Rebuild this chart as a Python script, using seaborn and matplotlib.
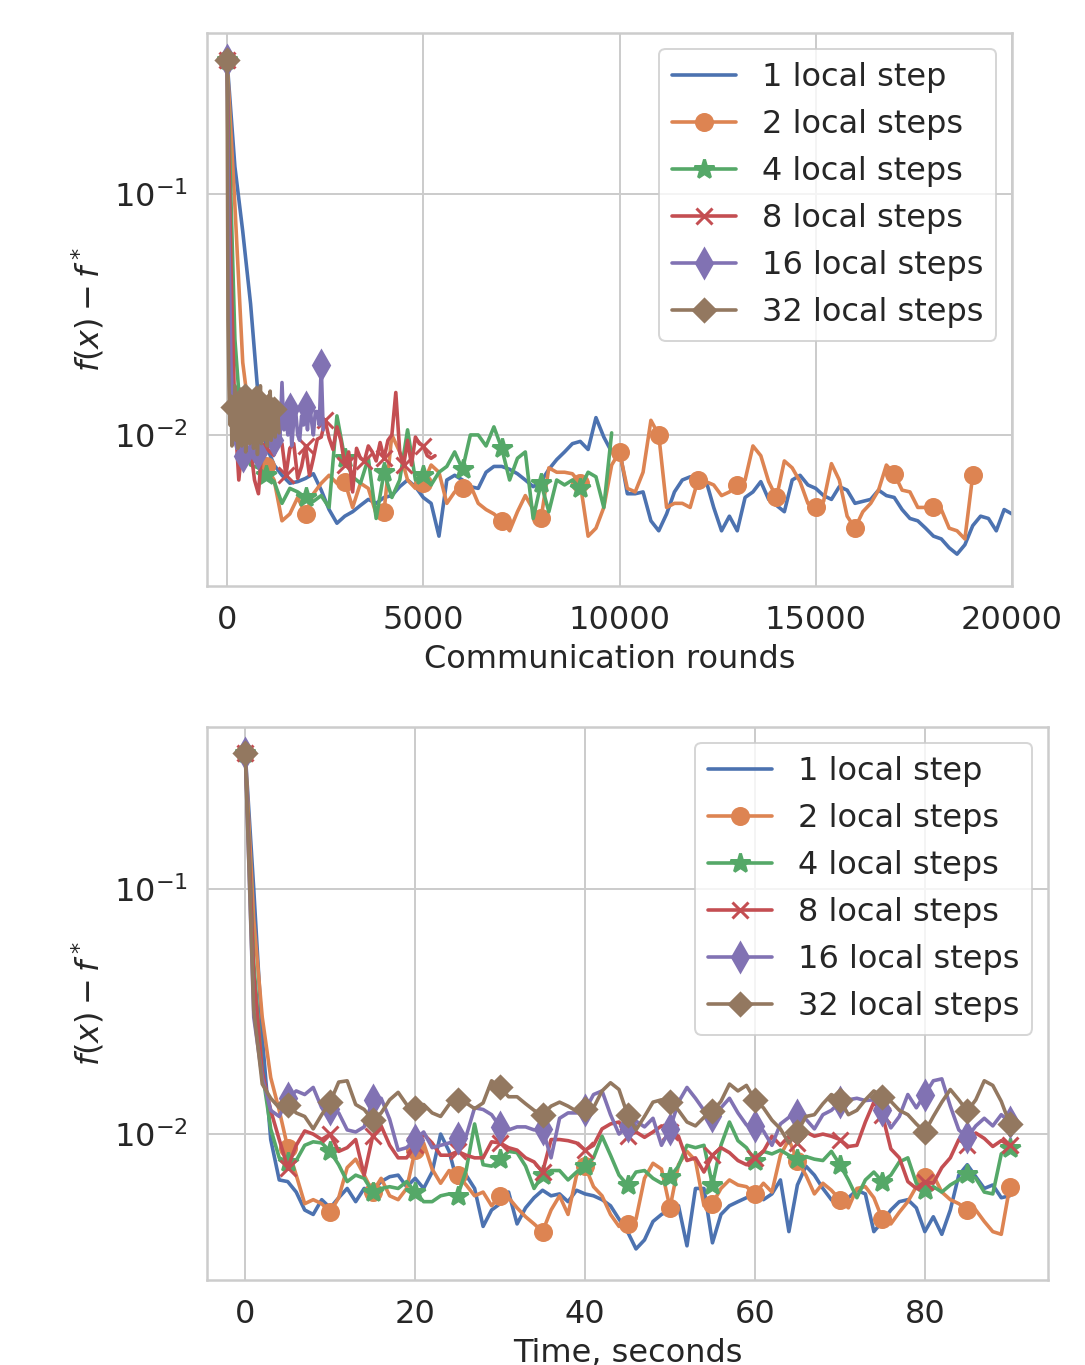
import numpy as np
import matplotlib
matplotlib.use('Agg')
import matplotlib.pyplot as plt
import seaborn as sns

# f(x) - f* per series
labels = ["1 local step", "2 local steps", "4 local steps",
          "8 local steps", "16 local steps", "32 local steps"]
markers = [None, "o", "*", "x", "d", "D"]

# top panel: communication rounds (spacing between logged points)
round_step = [200, 200, 200, 100, 50, 25]

rounds_1 = [0.36, 0.13, 0.07, 0.035, 0.014, 0.009, 0.0075, 0.0068, 0.0063, 0.0064,
            0.0066, 0.0069, 0.0059, 0.0049, 0.0043, 0.0046, 0.0048, 0.0051, 0.0054, 0.0052,
            0.0055, 0.0056, 0.0061, 0.0065, 0.0061, 0.0055, 0.0052, 0.0038, 0.0065, 0.0068,
            0.0065, 0.0061, 0.0060, 0.0070, 0.0074, 0.0074, 0.0072, 0.0069, 0.0065, 0.0061,
            0.0064, 0.0072, 0.0079, 0.0085, 0.0092, 0.0094, 0.0087, 0.0118, 0.0098, 0.0085,
            0.0087, 0.0057, 0.0057, 0.0058, 0.0044, 0.0040, 0.0047, 0.0058, 0.0065, 0.0067,
            0.0067, 0.0065, 0.0050, 0.0040, 0.0046, 0.0040, 0.0055, 0.0058, 0.0064, 0.0054,
            0.0051, 0.0048, 0.0065, 0.0068, 0.0062, 0.0060, 0.0056, 0.0054, 0.0061, 0.0059,
            0.0052, 0.0053, 0.0054, 0.0059, 0.0056, 0.0055, 0.0049, 0.0045, 0.0044, 0.0041,
            0.0038, 0.0037, 0.0034, 0.0032, 0.0035, 0.0042, 0.0046, 0.0045, 0.0040, 0.0049, 0.0047]
rounds_2 = [0.36, 0.09, 0.02, 0.011, 0.009, 0.0074, 0.0065, 0.0044, 0.0047, 0.0055,
            0.0047, 0.0057, 0.0063, 0.0068, 0.0063, 0.0064, 0.0050, 0.0063, 0.0060, 0.0047,
            0.0048, 0.0100, 0.0085, 0.0065, 0.0060, 0.0063, 0.0075, 0.0070, 0.0052, 0.0058,
            0.0060, 0.0062, 0.0052, 0.0049, 0.0047, 0.0044, 0.0040, 0.0048, 0.0056, 0.0049,
            0.0045, 0.0073, 0.0070, 0.0070, 0.0069, 0.0063, 0.0038, 0.0041, 0.0050, 0.0075,
            0.0085, 0.0060, 0.0058, 0.0070, 0.0115, 0.0100, 0.0050, 0.0052, 0.0052, 0.0050,
            0.0065, 0.0064, 0.0062, 0.0056, 0.0058, 0.0062, 0.0065, 0.0090, 0.0082, 0.0064,
            0.0055, 0.0078, 0.0073, 0.0064, 0.0052, 0.0050, 0.0053, 0.0076, 0.0065, 0.0046,
            0.0041, 0.0048, 0.0052, 0.0059, 0.0075, 0.0069, 0.0059, 0.0058, 0.0050, 0.0050,
            0.0050, 0.0049, 0.0041, 0.0040, 0.0037, 0.0068]
rounds_4 = [0.36, 0.025, 0.009, 0.0075, 0.0073, 0.0068, 0.0064, 0.0052, 0.0060, 0.0058,
            0.0055, 0.0053, 0.0056, 0.0050, 0.0120, 0.0080, 0.0067, 0.0063, 0.0080, 0.0045,
            0.0070, 0.0055, 0.0065, 0.0105, 0.0065, 0.0068, 0.0062, 0.0070, 0.0074, 0.0085,
            0.0072, 0.0100, 0.0100, 0.0090, 0.0108, 0.0088, 0.0065, 0.0080, 0.0085, 0.0045,
            0.0063, 0.0048, 0.0065, 0.0062, 0.0065, 0.0060, 0.0070, 0.0067, 0.0050, 0.0102]
rounds_8 = [0.36, 0.05, 0.012, 0.0065, 0.0095, 0.0085, 0.0088, 0.0065, 0.0057, 0.0092,
            0.0088, 0.0085, 0.0083, 0.0092, 0.0092, 0.0068, 0.0088, 0.0092, 0.0066, 0.0074,
            0.0090, 0.0068, 0.0080, 0.0096, 0.0098, 0.0115, 0.0097, 0.0087, 0.0108, 0.0095,
            0.0075, 0.0085, 0.0058, 0.0088, 0.0080, 0.0078, 0.0090, 0.0085, 0.0078, 0.0093,
            0.0080, 0.0095, 0.0100, 0.0150, 0.0085, 0.0075, 0.0095, 0.0075, 0.0098, 0.0092,
            0.0090, 0.0082, 0.0080, 0.0082]
rounds_16 = [0.36, 0.06, 0.02, 0.012, 0.0095, 0.0088, 0.0105, 0.0090, 0.0082, 0.0098,
             0.0088, 0.0080, 0.0095, 0.0086, 0.0100, 0.0092, 0.0084, 0.0110, 0.0095, 0.0102,
             0.0118, 0.0098, 0.0090, 0.0108, 0.0095, 0.0088, 0.0105, 0.0098, 0.0165, 0.0105,
             0.0120, 0.0100, 0.0128, 0.0090, 0.0115, 0.0125, 0.0100, 0.0095, 0.0120, 0.0110,
             0.0130, 0.0105, 0.0140, 0.0115, 0.0100, 0.0125, 0.0125, 0.0110, 0.0195, 0.0105]
rounds_32 = [0.36, 0.03, 0.016, 0.011, 0.0145, 0.009, 0.013, 0.0105, 0.016, 0.0095,
             0.012, 0.0088, 0.0135, 0.011, 0.0155, 0.009, 0.0125, 0.0105, 0.0145, 0.0085,
             0.012, 0.010, 0.0138, 0.0092, 0.0128, 0.0108, 0.015, 0.0088, 0.0118, 0.0098,
             0.0142, 0.0083, 0.0125, 0.0102, 0.016, 0.0092, 0.0122, 0.0095, 0.0135, 0.0105,
             0.0118, 0.009, 0.0132, 0.0100, 0.0152, 0.0095, 0.0120, 0.0105, 0.0128, 0.0098,
             0.0115, 0.0108, 0.0120, 0.0102]

# bottom panel: one value per second, 0..90 s
seconds = np.arange(91)
time_1 = [0.36, 0.10, 0.025, 0.0095, 0.0065, 0.0064, 0.0058, 0.0049, 0.0047, 0.0054,
          0.0050, 0.0055, 0.0060, 0.0053, 0.0060, 0.0059, 0.0064, 0.0067, 0.0068, 0.0061,
          0.0066, 0.0060, 0.0070, 0.0100, 0.0085, 0.0063, 0.0068, 0.0060, 0.0042, 0.0049,
          0.0052, 0.0058, 0.0043, 0.0050, 0.0055, 0.0059, 0.0056, 0.0057, 0.0053, 0.0059,
          0.0057, 0.0056, 0.0054, 0.0051, 0.0045, 0.0040, 0.0034, 0.0037, 0.0044, 0.0047,
          0.0049, 0.0051, 0.0035, 0.0060, 0.0060, 0.0036, 0.0047, 0.0051, 0.0053, 0.0055,
          0.0058, 0.0054, 0.0057, 0.0065, 0.0040, 0.0062, 0.0074, 0.0068, 0.0060, 0.0054,
          0.0050, 0.0055, 0.0059, 0.0057, 0.0040, 0.0044, 0.0049, 0.0053, 0.0054, 0.0050,
          0.0040, 0.0046, 0.0039, 0.0049, 0.0068, 0.0075, 0.0067, 0.0060, 0.0062, 0.0055, 0.0056]
time_2 = [0.36, 0.075, 0.030, 0.017, 0.0125, 0.0088, 0.0068, 0.0052, 0.0054, 0.0052,
          0.0048, 0.0055, 0.0073, 0.0079, 0.0068, 0.0058, 0.0066, 0.0056, 0.0054, 0.0060,
          0.0086, 0.0092, 0.0072, 0.0063, 0.0071, 0.0068, 0.0062, 0.0056, 0.0058, 0.0051,
          0.0056, 0.0055, 0.0050, 0.0046, 0.0043, 0.0040, 0.0049, 0.0056, 0.0047, 0.0068,
          0.0074, 0.0061, 0.0056, 0.0047, 0.0042, 0.0043, 0.0045, 0.0066, 0.0076, 0.0072,
          0.0050, 0.0075, 0.0085, 0.0078, 0.0051, 0.0052, 0.0060, 0.0065, 0.0062, 0.0061,
          0.0057, 0.0063, 0.0058, 0.0082, 0.0095, 0.0078, 0.0068, 0.0057, 0.0063, 0.0059,
          0.0054, 0.0050, 0.0060, 0.0061, 0.0055, 0.0045, 0.0043, 0.0048, 0.0053, 0.0061,
          0.0067, 0.0068, 0.0058, 0.0054, 0.0052, 0.0049, 0.0049, 0.0044, 0.0040, 0.0039, 0.0061]
time_4 = [0.36, 0.05, 0.018, 0.0105, 0.0080, 0.0077, 0.0078, 0.0090, 0.0093, 0.0092,
          0.0085, 0.0075, 0.0064, 0.0068, 0.0066, 0.0058, 0.0060, 0.0061, 0.0060, 0.0064,
          0.0058, 0.0053, 0.0053, 0.0056, 0.0057, 0.0056, 0.0071, 0.0110, 0.0075, 0.0074,
          0.0079, 0.0085, 0.0084, 0.0074, 0.0060, 0.0068, 0.0071, 0.0071, 0.0065, 0.0070,
          0.0074, 0.0080, 0.0098, 0.0082, 0.0068, 0.0062, 0.0070, 0.0071, 0.0066, 0.0063,
          0.0067, 0.0074, 0.0090, 0.0088, 0.0090, 0.0062, 0.0090, 0.0112, 0.0094, 0.0088,
          0.0078, 0.0085, 0.0083, 0.0086, 0.0082, 0.0079, 0.0081, 0.0079, 0.0078, 0.0085,
          0.0075, 0.0065, 0.0055, 0.0065, 0.0070, 0.0064, 0.0068, 0.0077, 0.0080, 0.0063,
          0.0059, 0.0061, 0.0058, 0.0062, 0.0065, 0.0069, 0.0066, 0.0058, 0.0057, 0.0083, 0.0088]
time_8 = [0.36, 0.045, 0.018, 0.0125, 0.0095, 0.0073, 0.0090, 0.0103, 0.0100, 0.0095,
          0.0100, 0.0085, 0.0088, 0.0095, 0.0068, 0.0098, 0.0108, 0.0090, 0.0080, 0.0080,
          0.0090, 0.0100, 0.0092, 0.0082, 0.0082, 0.0085, 0.0082, 0.0080, 0.0080, 0.0093,
          0.0092, 0.0088, 0.0086, 0.0080, 0.0077, 0.0070, 0.0095, 0.0095, 0.0094, 0.0092,
          0.0086, 0.0090, 0.0105, 0.0110, 0.0112, 0.0098, 0.0102, 0.0097, 0.0102, 0.0108,
          0.0102, 0.0098, 0.0078, 0.0080, 0.0070, 0.0082, 0.0088, 0.0084, 0.0078, 0.0075,
          0.0080, 0.0085, 0.0098, 0.0090, 0.0098, 0.0092, 0.0102, 0.0098, 0.0100, 0.0098,
          0.0095, 0.0089, 0.0090, 0.0112, 0.0135, 0.0120, 0.0087, 0.0080, 0.0064, 0.0060,
          0.0064, 0.0063, 0.0073, 0.0080, 0.0095, 0.0090, 0.0101, 0.0096, 0.0089, 0.0094, 0.0090]
time_16 = [0.36, 0.030, 0.017, 0.0125, 0.0118, 0.0140, 0.0150, 0.0145, 0.0155, 0.0128,
           0.0126, 0.0122, 0.0104, 0.0102, 0.0107, 0.0138, 0.0140, 0.0115, 0.0086, 0.0088,
           0.0095, 0.0102, 0.0088, 0.0090, 0.0092, 0.0096, 0.0098, 0.0128, 0.0126, 0.0120,
           0.0107, 0.0104, 0.0107, 0.0107, 0.0104, 0.0105, 0.0080, 0.0116, 0.0122, 0.0122,
           0.0125, 0.0145, 0.0150, 0.0120, 0.0100, 0.0108, 0.0113, 0.0107, 0.0116, 0.0090,
           0.0105, 0.0135, 0.0155, 0.0140, 0.0125, 0.0118, 0.0128, 0.0140, 0.0122, 0.0109,
           0.0108, 0.0103, 0.0090, 0.0110, 0.0117, 0.0120, 0.0115, 0.0105, 0.0120, 0.0125,
           0.0135, 0.0138, 0.0140, 0.0137, 0.0138, 0.0125, 0.0106, 0.0118, 0.0145, 0.0128,
           0.0145, 0.0165, 0.0168, 0.0130, 0.0104, 0.0097, 0.0108, 0.0116, 0.0108, 0.0120, 0.0112]
time_32 = [0.36, 0.032, 0.016, 0.0140, 0.0128, 0.0132, 0.0122, 0.0118, 0.0105, 0.0120,
           0.0135, 0.0163, 0.0165, 0.0132, 0.0126, 0.0114, 0.0122, 0.0138, 0.0148, 0.0132,
           0.0128, 0.0132, 0.0122, 0.0118, 0.0132, 0.0138, 0.0134, 0.0127, 0.0134, 0.0165,
           0.0155, 0.0142, 0.0142, 0.0133, 0.0125, 0.0120, 0.0130, 0.0135, 0.0130, 0.0124,
           0.0127, 0.0128, 0.0150, 0.0162, 0.0152, 0.0120, 0.0104, 0.0118, 0.0135, 0.0138,
           0.0135, 0.0125, 0.0112, 0.0108, 0.0117, 0.0124, 0.0136, 0.0160, 0.0150, 0.0158,
           0.0138, 0.0128, 0.0114, 0.0105, 0.0092, 0.0102, 0.0118, 0.0120, 0.0133, 0.0145,
           0.0138, 0.0120, 0.0125, 0.0138, 0.0150, 0.0142, 0.0136, 0.0125, 0.0120, 0.0110,
           0.0102, 0.0118, 0.0135, 0.0152, 0.0138, 0.0124, 0.0138, 0.0165, 0.0158, 0.0136, 0.0110]

rounds_data = [rounds_1, rounds_2, rounds_4, rounds_8, rounds_16, rounds_32]
time_data = [time_1, time_2, time_4, time_8, time_16, time_32]

sns.set_theme(style="whitegrid", palette="deep")
plt.rcParams.update({
    "font.size": 16, "axes.labelsize": 16, "xtick.labelsize": 16,
    "ytick.labelsize": 16, "legend.fontsize": 16,
})
colors = sns.color_palette("deep")
msizes = {None: 0, "o": 8, "*": 10, "x": 8, "d": 10, "D": 8}


def draw(ax, xs, ys, every):
    for x, y, lab, mk, col, ev in zip(xs, ys, labels, markers, colors, every):
        sns.lineplot(x=x, y=y, ax=ax, label=lab, color=col, marker=mk,
                     markevery=ev, markersize=msizes[mk], markeredgecolor=col,
                     markeredgewidth=1.5, linewidth=1.8)
    ax.set_yscale("log")
    ax.set_ylabel(r"$f(x) - f^*$")
    ax.legend(loc="upper right")


fig = plt.figure(figsize=(1085 / 144, 1365 / 144), dpi=144)

ax1 = fig.add_axes([0.1908, 0.5707, 0.7419, 0.4051])
xs = [np.arange(len(y)) * s for y, s in zip(rounds_data, round_step)]
draw(ax1, xs, rounds_data, [1, 5, 5, 5, 8, 6])
ax1.set_xlim(-510, 20000)
ax1.set_ylim(0.00236, 0.466)
ax1.set_xticks([0, 5000, 10000, 15000, 20000])
ax1.set_xlabel("Communication rounds")

ax2 = fig.add_axes([0.1908, 0.0623, 0.7751, 0.4051])
draw(ax2, [seconds] * 6, time_data, [1, 5, 5, 5, 5, 5])
ax2.set_xlim(-4.5, 94.5)
ax2.set_ylim(0.00254, 0.458)
ax2.set_xticks([0, 20, 40, 60, 80])
ax2.set_xlabel("Time, seconds")

fig.savefig("out.png", dpi=144)
